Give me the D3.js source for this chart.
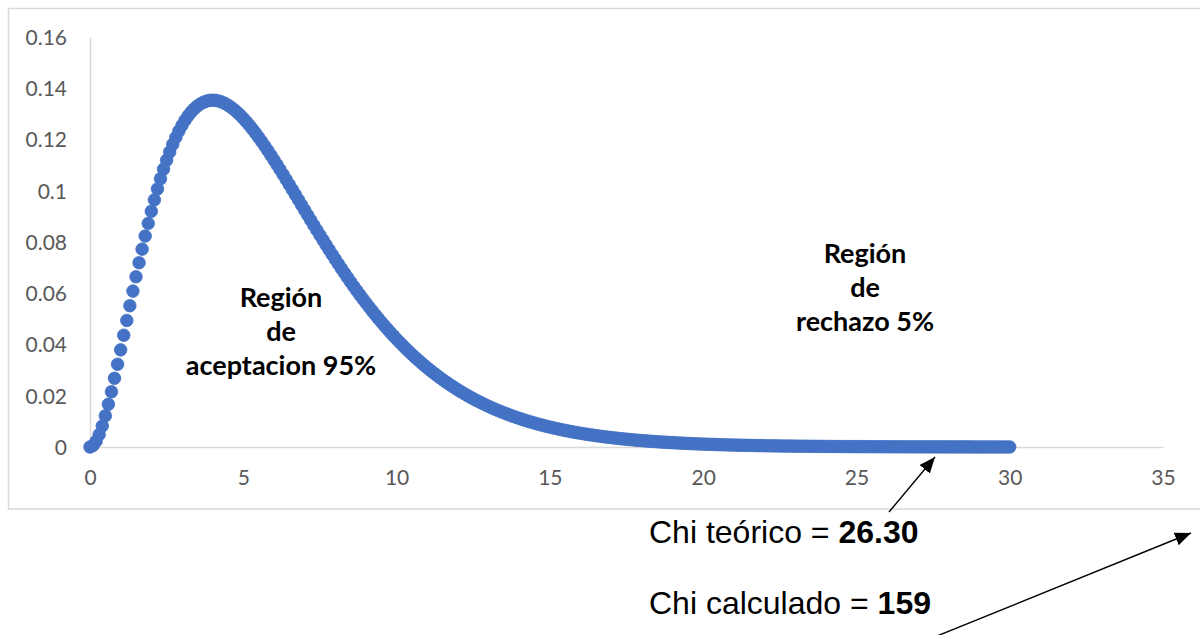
<!DOCTYPE html>
<html>
<head>
<meta charset="utf-8">
<script src="https://cdn.jsdelivr.net/npm/d3@7"></script>
<style>
  html, body { margin: 0; padding: 0; background: #ffffff; }
  svg { display: block; }
</style>
</head>
<body>
<svg id="chart" width="1200" height="635"></svg>
<script>
// ---- data ----
const xValues = [
  0,0.1,0.2,0.3,0.4,0.5,0.6,0.7,0.8,0.9,
  1,1.1,1.2,1.3,1.4,1.5,1.6,1.7,1.8,1.9,
  2,2.1,2.2,2.3,2.4,2.5,2.6,2.7,2.8,2.9,
  3,3.1,3.2,3.3,3.4,3.5,3.6,3.7,3.8,3.9,
  4,4.1,4.2,4.3,4.4,4.5,4.6,4.7,4.8,4.9,
  5,5.1,5.2,5.3,5.4,5.5,5.6,5.7,5.8,5.9,
  6,6.1,6.2,6.3,6.4,6.5,6.6,6.7,6.8,6.9,
  7,7.1,7.2,7.3,7.4,7.5,7.6,7.7,7.8,7.9,
  8,8.1,8.2,8.3,8.4,8.5,8.6,8.7,8.8,8.9,
  9,9.1,9.2,9.3,9.4,9.5,9.6,9.7,9.8,9.9,
  10,10.1,10.2,10.3,10.4,10.5,10.6,10.7,10.8,10.9,
  11,11.1,11.2,11.3,11.4,11.5,11.6,11.7,11.8,11.9,
  12,12.1,12.2,12.3,12.4,12.5,12.6,12.7,12.8,12.9,
  13,13.1,13.2,13.3,13.4,13.5,13.6,13.7,13.8,13.9,
  14,14.1,14.2,14.3,14.4,14.5,14.6,14.7,14.8,14.9,
  15,15.1,15.2,15.3,15.4,15.5,15.6,15.7,15.8,15.9,
  16,16.1,16.2,16.3,16.4,16.5,16.6,16.7,16.8,16.9,
  17,17.1,17.2,17.3,17.4,17.5,17.6,17.7,17.8,17.9,
  18,18.1,18.2,18.3,18.4,18.5,18.6,18.7,18.8,18.9,
  19,19.1,19.2,19.3,19.4,19.5,19.6,19.7,19.8,19.9,
  20,20.1,20.2,20.3,20.4,20.5,20.6,20.7,20.8,20.9,
  21,21.1,21.2,21.3,21.4,21.5,21.6,21.7,21.8,21.9,
  22,22.1,22.2,22.3,22.4,22.5,22.6,22.7,22.8,22.9,
  23,23.1,23.2,23.3,23.4,23.5,23.6,23.7,23.8,23.9,
  24,24.1,24.2,24.3,24.4,24.5,24.6,24.7,24.8,24.9,
  25,25.1,25.2,25.3,25.4,25.5,25.6,25.7,25.8,25.9,
  26,26.1,26.2,26.3,26.4,26.5,26.6,26.7,26.8,26.9,
  27,27.1,27.2,27.3,27.4,27.5,27.6,27.7,27.8,27.9,
  28,28.1,28.2,28.3,28.4,28.5,28.6,28.7,28.8,28.9,
  29,29.1,29.2,29.3,29.4,29.5,29.6,29.7,29.8,29.9,
  30
];
const yValues = [
  0,0.000595,0.002262,0.004841,0.008187,0.012169,0.016668,0.021581,0.026813,0.032280,
  0.037908,0.043632,0.049393,0.055141,0.060832,0.066427,0.071893,0.077202,0.082330,0.087259,
  0.091970,0.096452,0.100693,0.104688,0.108430,0.111916,0.115145,0.118116,0.120833,0.123296,
  0.125511,0.127482,0.129214,0.130714,0.131989,0.133046,0.133892,0.134536,0.134986,0.135249,
  0.135335,0.135252,0.135008,0.134611,0.134072,0.133395,0.132592,0.131669,0.130634,0.129495,
  0.128258,0.126932,0.125523,0.124037,0.122483,0.120864,0.119188,0.117460,0.115686,0.113872,
  0.112021,0.110139,0.108230,0.106300,0.104351,0.102388,0.100414,0.098433,0.096448,0.094464,
  0.092479,0.090502,0.088530,0.086567,0.084618,0.082681,0.080759,0.078856,0.076970,0.075106,
  0.073263,0.071441,0.069648,0.067874,0.066132,0.064411,0.062723,0.061058,0.059421,0.057818,
  0.056239,0.054692,0.053175,0.051687,0.050229,0.048801,0.047403,0.046036,0.044698,0.043390,
  0.042112,0.040863,0.039644,0.038454,0.037292,0.036159,0.035054,0.033976,0.032926,0.031903,
  0.030906,0.029936,0.028992,0.028072,0.027178,0.026308,0.025462,0.024640,0.023840,0.023063,
  0.022309,0.021576,0.020865,0.020174,0.019503,0.018852,0.018221,0.017608,0.017015,0.016438,
  0.015880,0.015339,0.014815,0.014306,0.013814,0.013337,0.012875,0.012428,0.011995,0.011576,
  0.011171,0.010778,0.010398,0.010031,0.009676,0.009332,0.009000,0.008679,0.008368,0.008068,
  0.007778,0.007497,0.007227,0.006965,0.006712,0.006468,0.006232,0.006004,0.005784,0.005572,
  0.005367,0.005170,0.004979,0.004795,0.004617,0.004445,0.004280,0.004121,0.003967,0.003818,
  0.003675,0.003537,0.003404,0.003276,0.003152,0.003033,0.002918,0.002807,0.002701,0.002598,
  0.002499,0.002404,0.002312,0.002223,0.002138,0.002056,0.001977,0.001901,0.001827,0.001757,
  0.001689,0.001623,0.001560,0.001500,0.001442,0.001385,0.001331,0.001279,0.001229,0.001181,
  0.001135,0.001090,0.001047,0.001006,0.000966,0.000928,0.000892,0.000856,0.000823,0.000790,
  0.000759,0.000729,0.000700,0.000672,0.000645,0.000619,0.000595,0.000571,0.000548,0.000526,
  0.000505,0.000485,0.000465,0.000447,0.000429,0.000411,0.000395,0.000379,0.000364,0.000349,
  0.000335,0.000321,0.000308,0.000296,0.000284,0.000272,0.000261,0.000251,0.000240,0.000231,
  0.000221,0.000212,0.000203,0.000195,0.000187,0.000180,0.000172,0.000165,0.000159,0.000152,
  0.000146,0.000140,0.000134,0.000129,0.000123,0.000118,0.000113,0.000109,0.000104,0.000100,
  0.0000955,0.0000915,0.0000877,0.0000841,0.0000806,0.0000772,0.0000740,0.0000709,0.0000680,0.0000652,
  0.0000625,0.0000599,0.0000574,0.0000550,0.0000527,0.0000504,0.0000483,0.0000463,0.0000443,0.0000425,
  0.0000407,0.0000390,0.0000373,0.0000358,0.0000343,0.0000328,0.0000314,0.0000301,0.0000288,0.0000276,
  0.0000265,0.0000254,0.0000243,0.0000233,0.0000223,0.0000213,0.0000204,0.0000196,0.0000187,0.0000179,
  0.0000172
];
const xTicks = [0, 5, 10, 15, 20, 25, 30, 35];
const yTicks = [0, 0.02, 0.04, 0.06, 0.08, 0.1, 0.12, 0.14, 0.16];
const yTickLabels = ["0", "0.02", "0.04", "0.06", "0.08", "0.1", "0.12", "0.14", "0.16"];
const regionAccept = ["Región", "de", "aceptacion 95%"];
const regionReject = ["Región", "de", "rechazo 5%"];
const chiTeorico = "26.30";
const chiCalculado = "159";

// ---- drawing ----
const svg = d3.select("#chart");
const x = d3.scaleLinear().domain([0, 35]).range([90, 1163]);
const y = d3.scaleLinear().domain([0, 0.16]).range([447, 37]);

svg.append("defs").append("marker")
  .attr("id", "arrow")
  .attr("viewBox", "0 0 10 10")
  .attr("refX", 10).attr("refY", 5)
  .attr("markerWidth", 16).attr("markerHeight", 16)
  .attr("markerUnits", "userSpaceOnUse")
  .attr("orient", "auto")
  .append("path").attr("d", "M0,0.8 L10,5 L0,9.2 Z").attr("fill", "#000");

// chart frame
svg.append("rect")
  .attr("x", 8.5).attr("y", 8.5).attr("width", 1200).attr("height", 500.5)
  .attr("fill", "none").attr("stroke", "#d9d9d9").attr("stroke-width", 1.5);

const tickFont = "Lato, 'Open Sans', sans-serif";

// x axis
const gx = svg.append("g").attr("transform", `translate(0,${y(0)})`)
  .call(d3.axisBottom(x).tickValues(xTicks).tickSize(0).tickSizeOuter(0).tickFormat(d3.format("d")));
gx.select(".domain").attr("stroke", "#d9d9d9").attr("stroke-width", 1.5);
gx.selectAll("text")
  .attr("y", 31).attr("dy", "0.35em")
  .attr("fill", "#595959").style("font-family", tickFont).style("font-size", "21px");

// y axis
const gy = svg.append("g").attr("transform", `translate(${x(0)},0)`)
  .call(d3.axisLeft(y).tickValues(yTicks).tickSize(0).tickSizeOuter(0)
    .tickFormat((d, i) => yTickLabels[i]));
gy.select(".domain").attr("stroke", "#d9d9d9").attr("stroke-width", 1.5);
gy.selectAll("text")
  .attr("x", -23).attr("dy", "0.35em")
  .attr("fill", "#595959").style("font-family", tickFont).style("font-size", "21px");

// markers
svg.append("g").selectAll("circle")
  .data(xValues.map((v, i) => [v, yValues[i]]))
  .join("circle")
  .attr("cx", d => x(d[0]))
  .attr("cy", d => y(d[1]))
  .attr("r", 6.3)
  .attr("fill", "#4472c4")
  .attr("stroke", "#4472c4")
  .attr("stroke-width", 0.75);

// region labels
function regionLabel(lines, cx, baseY) {
  const t = svg.append("text")
    .attr("text-anchor", "middle")
    .style("font-family", "Lato, 'Open Sans', sans-serif")
    .style("font-weight", "bold")
    .style("font-size", "27px")
    .attr("fill", "#000");
  lines.forEach((l, i) => {
    t.append("tspan").attr("x", cx).attr("y", baseY + i * 34).text(l);
  });
}
regionLabel(regionAccept, 281, 307);
regionLabel(regionReject, 865, 263);

// chi annotations
function chiText(label, value, baseY) {
  const t = svg.append("text")
    .attr("x", 649).attr("y", baseY)
    .style("font-family", "'Liberation Sans', Arial, sans-serif")
    .style("font-size", "32px")
    .attr("fill", "#000");
  t.append("tspan").text(label);
  t.append("tspan").style("font-weight", "bold").text(value);
}
chiText("Chi teórico = ", chiTeorico, 543);
chiText("Chi calculado = ", chiCalculado, 614);

// arrows
svg.append("line")
  .attr("x1", 889).attr("y1", 512).attr("x2", 935).attr("y2", 457)
  .attr("stroke", "#000").attr("stroke-width", 1.4).attr("marker-end", "url(#arrow)");
svg.append("line")
  .attr("x1", 937).attr("y1", 636).attr("x2", 1191).attr("y2", 533)
  .attr("stroke", "#000").attr("stroke-width", 1.4).attr("marker-end", "url(#arrow)");
</script>
</body>
</html>
